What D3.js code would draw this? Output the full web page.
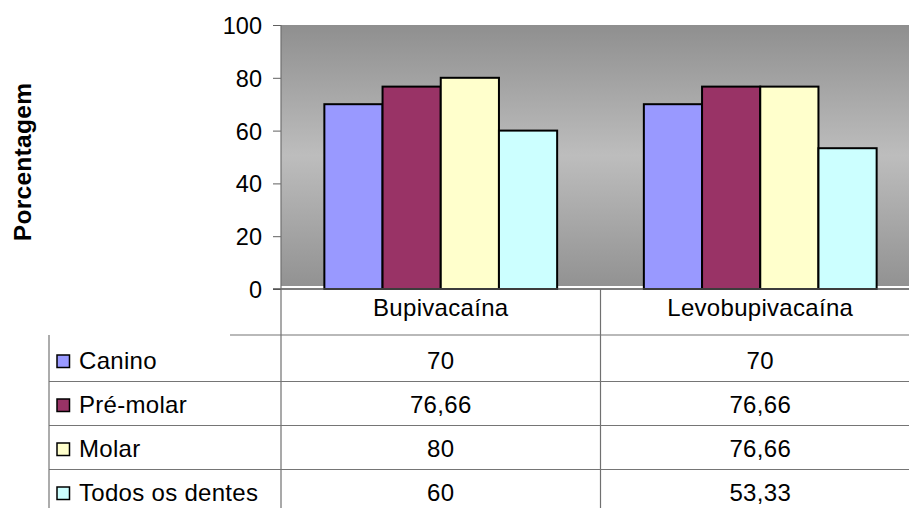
<!DOCTYPE html>
<html><head><meta charset="utf-8">
<script src="https://cdn.jsdelivr.net/npm/d3@7"></script>
<style>body{margin:0;background:#fff;}svg{display:block;font-family:"Liberation Sans",Arial,sans-serif;}</style>
</head><body>
<svg id="c" width="909" height="508"></svg>
<script>
const categories = ["Bupivacaína", "Levobupivacaína"];
const seriesNames = ["Canino", "Pré-molar", "Molar", "Todos os dentes"];
const canino = [70, 70];
const preMolar = [76.66, 76.66];
const molar = [80, 76.66];
const todos = [60, 53.33];
const valueLabels = [["70","70"],["76,66","76,66"],["80","76,66"],["60","53,33"]];
const yTicks = [0, 20, 40, 60, 80, 100];
const colors = ["#9999FF", "#993366", "#FFFFCC", "#CCFFFF"];
const seriesValues = [canino, preMolar, molar, todos];

(function(){
const svg = d3.select("#c");
const pLeft = 281, pRight = 920, pTop = 25, base = 289;
const tableLeft = 49, rowH = 44, headerBottom = 335, firstRowBottom = 381.5, firstBaseline = 368.5;
const fs = 24, ls = 0.3;

const defs = svg.append("defs");
const g = defs.append("linearGradient").attr("id","bg").attr("x1",0).attr("y1",0).attr("x2",0).attr("y2",1);
g.append("stop").attr("offset","0%").attr("stop-color","#8f8f8f");
g.append("stop").attr("offset","50%").attr("stop-color","#bdbdbd");
g.append("stop").attr("offset","100%").attr("stop-color","#929292");

const y = d3.scaleLinear().domain([0,100]).range([base, pTop]);
const x0 = d3.scaleBand().domain(categories).range([pLeft, pRight]).padding(0);
const x1 = d3.scaleBand().domain(seriesNames).range([0, x0.bandwidth()]).paddingInner(0).paddingOuter(0.745);

svg.append("rect").attr("x", pLeft).attr("y", pTop).attr("width", pRight-pLeft).attr("height", base-3-pTop).attr("fill","url(#bg)");

categories.forEach((c, ci) => {
  seriesNames.forEach((s, si) => {
    const v = seriesValues[si][ci];
    svg.append("rect")
      .attr("x", x0(c) + x1(s))
      .attr("y", y(v))
      .attr("width", x1.bandwidth())
      .attr("height", base - y(v))
      .attr("fill", colors[si])
      .attr("stroke", "#000").attr("stroke-width", 2);
  });
});

const yAxis = d3.axisLeft(y).tickValues(yTicks).tickSize(8).tickPadding(11);
const ya = svg.append("g").attr("transform", `translate(${pLeft},0)`).call(yAxis);
ya.select(".domain").remove();
ya.selectAll(".tick line").attr("stroke","#606060");
ya.selectAll(".tick text").attr("font-size", 23.5).attr("fill","#000").attr("font-family","Liberation Sans, Arial, sans-serif").attr("dy","0.36em");

svg.append("line").attr("x1", pLeft-8).attr("x2", pRight).attr("y1", base).attr("y2", base).attr("stroke","#505050").attr("stroke-width",1.5);
svg.append("line").attr("x1", pLeft).attr("x2", pLeft).attr("y1", pTop).attr("y2", 508).attr("stroke","#707070").attr("stroke-width",1.2);
svg.append("line").attr("x1", x0(categories[1])).attr("x2", x0(categories[1])).attr("y1", base).attr("y2", 508).attr("stroke","#707070").attr("stroke-width",1.2);

const hLines = [headerBottom, firstRowBottom, firstRowBottom + rowH, firstRowBottom + 2*rowH];
hLines.forEach((yy, i) => {
  svg.append("line").attr("x1", i===0 ? 230 : tableLeft).attr("x2", pRight).attr("y1", yy).attr("y2", yy).attr("stroke","#757575").attr("stroke-width",1.2);
});
svg.append("line").attr("x1", tableLeft).attr("x2", tableLeft).attr("y1", headerBottom).attr("y2", 508).attr("stroke","#757575").attr("stroke-width",1.2);

categories.forEach(c => {
  svg.append("text").attr("x", x0(c) + x0.bandwidth()/2).attr("y", 316)
    .attr("text-anchor","middle").attr("font-size", fs).attr("letter-spacing", ls).text(c);
});

seriesNames.forEach((s, si) => {
  const bl = firstBaseline + si*rowH;
  svg.append("rect").attr("x", 57).attr("y", bl - 13.5).attr("width", 12.5).attr("height", 12.5)
    .attr("fill", colors[si]).attr("stroke","#000").attr("stroke-width",1.5);
  svg.append("text").attr("x", 79).attr("y", bl).attr("font-size", fs).attr("letter-spacing", ls).text(s);
  categories.forEach((c, ci) => {
    svg.append("text").attr("x", x0(c) + x0.bandwidth()/2).attr("y", bl)
      .attr("text-anchor","middle").attr("font-size", fs).attr("letter-spacing", ls).text(valueLabels[si][ci]);
  });
});

svg.append("text").attr("transform","translate(31,162) rotate(-90)").attr("text-anchor","middle")
  .attr("font-size", 24.5).attr("font-weight","bold").attr("letter-spacing", 0.3).text("Porcentagem");
})();
</script>
</body></html>
